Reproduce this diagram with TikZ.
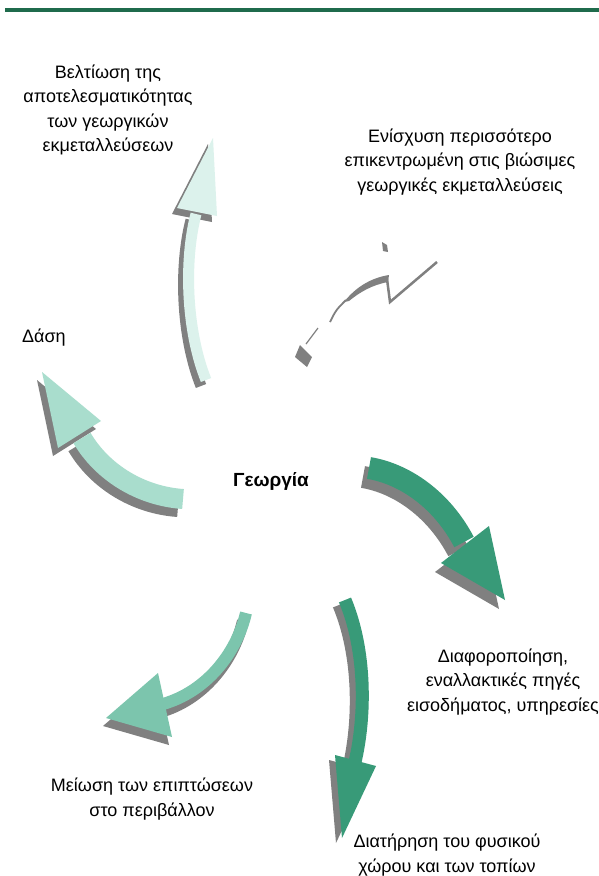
\documentclass[tikz,border=0pt]{standalone}
\usepackage{fontspec}
\setmainfont{Liberation Sans}
\definecolor{bargreen}{HTML}{1F6B4C}
\definecolor{palemint}{HTML}{DCF2EC}
\definecolor{mint}{HTML}{A9DDCD}
\definecolor{midmint}{HTML}{7CC5AD}
\definecolor{darkmint}{HTML}{389A78}
\definecolor{shadowgrey}{HTML}{808080}
\tikzset{
  lbl/.style={align=center, inner sep=0pt, font=\fontsize{18}{24.5}\selectfont},
}
\begin{document}
\begin{tikzpicture}[x=1pt,y=-1pt]
\useasboundingbox (0,0) rectangle (599,876);
\fill[white] (0,0) rectangle (599,876);
% top bar
\draw[bargreen, line width=3.5] (5,10) -- (599,10);

% labels
\node[lbl] (belt) at (108,110) {Βελτίωση της\\αποτελεσματικότητας\\των γεωργικών\\εκμεταλλεύσεων};
\node[lbl] (enis) at (460,162) {Ενίσχυση περισσότερο\\επικεντρωμένη στις βιώσιμες\\γεωργικές εκμεταλλεύσεις};
\node[lbl, anchor=west] (dasi) at (22,338) {Δάση};
\node[lbl, font=\fontsize{19}{22}\selectfont\bfseries] (geo) at (271,481) {Γεωργία};
\node[lbl] (diaf) at (503,682) {Διαφοροποίηση,\\εναλλακτικές πηγές\\εισοδήματος, υπηρεσίες};
\node[lbl] (meio) at (152,799) {Μείωση των επιπτώσεων\\στο περιβάλλον};
\node[lbl] (diat) at (447,855) {Διατήρηση του φυσικού\\χώρου και των τοπίων};

% arrow to "Beltiosi" (pale)
\foreach \dx/\dy/\col in {-5/6/shadowgrey, 0/0/palemint}{
  \begin{scope}[shift={(\dx,\dy)}]
    \draw[line width=11, \col] (206,380) .. controls (186,330) and (184,260) .. (196,214);
    \fill[\col] (177,208) -- (213,138) -- (217,216) -- cycle;
  \end{scope}
}
% arrow to "Dasi" (mint)
\foreach \dx/\dy/\col in {-5/8/shadowgrey, 0/0/mint}{
  \begin{scope}[shift={(\dx,\dy)}]
    \draw[line width=20, \col] (183,499) .. controls (140,496) and (102,472) .. (82,438);
    \fill[\col] (101,421) -- (42,372) -- (58,448) -- cycle;
  \end{scope}
}
% arrow to "Diaforopoiisi" (dark)
\foreach \dx/\dy/\col in {-6/9/shadowgrey, 0/0/darkmint}{
  \begin{scope}[shift={(\dx,\dy)}]
    \draw[line width=22, \col] (369,468) .. controls (405,474) and (442,500) .. (464,542);
    \fill[\col] (489,526) -- (505,600) -- (441,563) -- cycle;
  \end{scope}
}
% arrow to "Meiosi" (mid mint)
\foreach \dx/\dy/\col in {-3/8/shadowgrey, 0/0/midmint}{
  \begin{scope}[shift={(\dx,\dy)}]
    \draw[line width=12, \col] (246,613) .. controls (236,655) and (205,692) .. (163,704);
    \fill[\col] (158,673) -- (106,718) -- (172,737) -- cycle;
  \end{scope}
}
% arrow to "Diatirisi" (dark)
\foreach \dx/\dy/\col in {-6/5/shadowgrey, 0/0/darkmint}{
  \begin{scope}[shift={(\dx,\dy)}]
    \draw[line width=13, \col] (345,600) .. controls (366,650) and (366,715) .. (355,762);
    \fill[\col] (335,755) -- (342,838) -- (376,766) -- cycle;
  \end{scope}
}
% broken arrow remnant towards "Enisxysi"
\begin{scope}[shadowgrey]
  \draw[line width=2.5, line join=miter] (437,262) -- (390,302) -- (387,279);
  \fill (389,275) .. controls (370,278) and (355,288) .. (344,302)
        -- (349,301) .. controls (360,292) and (372,285) .. (388,282) -- cycle;
  \draw[line width=1.8] (346,300) .. controls (336,310) .. (330,322);
  \draw[line width=1.2] (318,328) -- (306,344);
  \fill (300,345) -- (312,357) -- (307,367) -- (295,357) -- cycle;
  \fill (382,242) -- (387,245) -- (388,252) -- (383,251) -- cycle;
\end{scope}
\end{tikzpicture}
\end{document}
